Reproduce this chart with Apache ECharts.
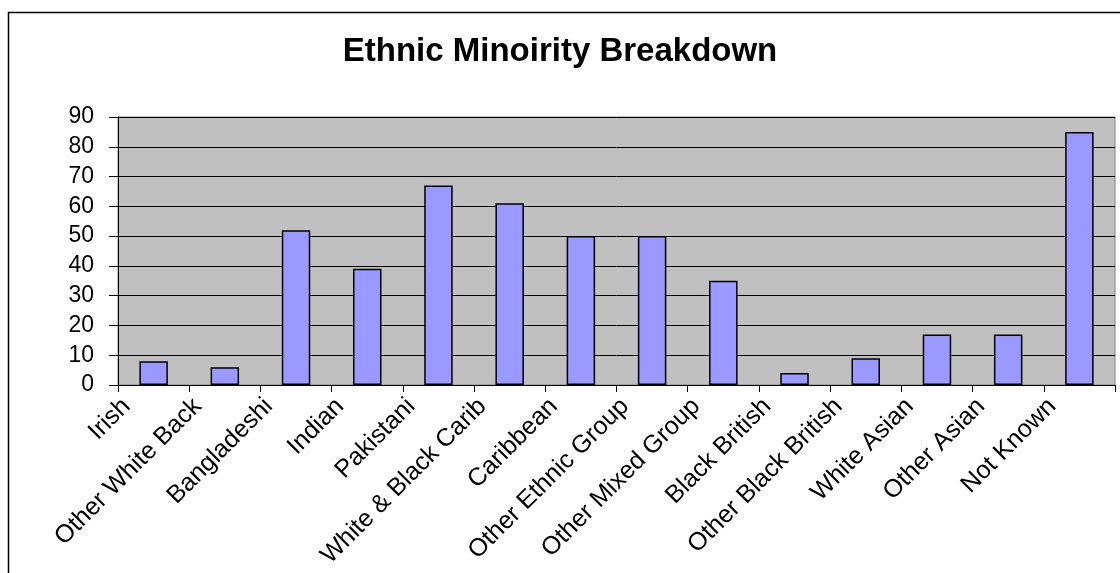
<!DOCTYPE html>
<html>
<head>
<meta charset="utf-8">
<script src="https://cdn.jsdelivr.net/npm/echarts@6/dist/echarts.min.js"></script>
<style>
  html, body { margin: 0; padding: 0; background: #fff; }
  #chart { width: 1120px; height: 573px; }
</style>
</head>
<body>
<div id="chart"></div>
<script>
// data
var categories = ["Irish", "Other White Back", "Bangladeshi", "Indian", "Pakistani", "White & Black Carib",
  "Caribbean", "Other Ethnic Group", "Other Mixed Group", "Black British", "Other Black British",
  "White Asian", "Other Asian", "Not Known"];
var counts = [8, 6, 52, 39, 67, 61, 50, 50, 35, 4, 9, 17, 17, 85];
var yTicks = [0, 90, 10]; // min, max, interval

var chart = echarts.init(document.getElementById("chart"));

var option = {
  animation: false,
  textStyle: { fontFamily: "Liberation Sans" },
  title: {
    text: "Ethnic Minoirity Breakdown",
    left: "center",
    top: 30,
    textStyle: { fontFamily: "Liberation Sans", fontSize: 33, fontWeight: "bold", color: "#000" }
  },
  // outer chart frame
  graphic: [{
    type: "rect",
    shape: { x: 8.5, y: 12.5, width: 1200, height: 700 },
    style: { fill: null, stroke: "#000", lineWidth: 1.5 },
    silent: true
  }],
  grid: {
    left: 118,
    right: 5,
    top: 117,
    bottom: 188,
    outerBoundsMode: "none",
    containLabel: false,
    show: true,
    backgroundColor: "#C0C0C0",
    borderColor: "#808080",
    borderWidth: 1
  },
  xAxis: {
    type: "category",
    data: categories,
    boundaryGap: true,
    axisLine: { lineStyle: { color: "#000", width: 1 } },
    axisTick: { show: true, length: 7, lineStyle: { color: "#000" } },
    axisLabel: {
      rotate: 45,
      interval: 0,
      margin: 8,
      verticalAlign: "bottom",
      padding: [0, 26, 0, 0],
      color: "#000",
      fontSize: 25,
      fontFamily: "Liberation Sans"
    }
  },
  yAxis: {
    type: "value",
    min: yTicks[0],
    max: yTicks[1],
    interval: yTicks[2],
    axisLine: { show: true, lineStyle: { color: "#000", width: 1 } },
    axisTick: { show: true, length: 9, lineStyle: { color: "#000" } },
    axisLabel: { margin: 24, color: "#000", fontSize: 23, fontFamily: "Liberation Sans" },
    splitLine: { show: true, lineStyle: { color: "#000", width: 1 } }
  },
  series: [{
    type: "bar",
    data: counts,
    barWidth: "40%",
    itemStyle: { color: "#9999FF", borderColor: "#000", borderWidth: 1.5 }
  }]
};

chart.setOption(option);
window.onresize = chart.resize;
</script>
</body>
</html>
